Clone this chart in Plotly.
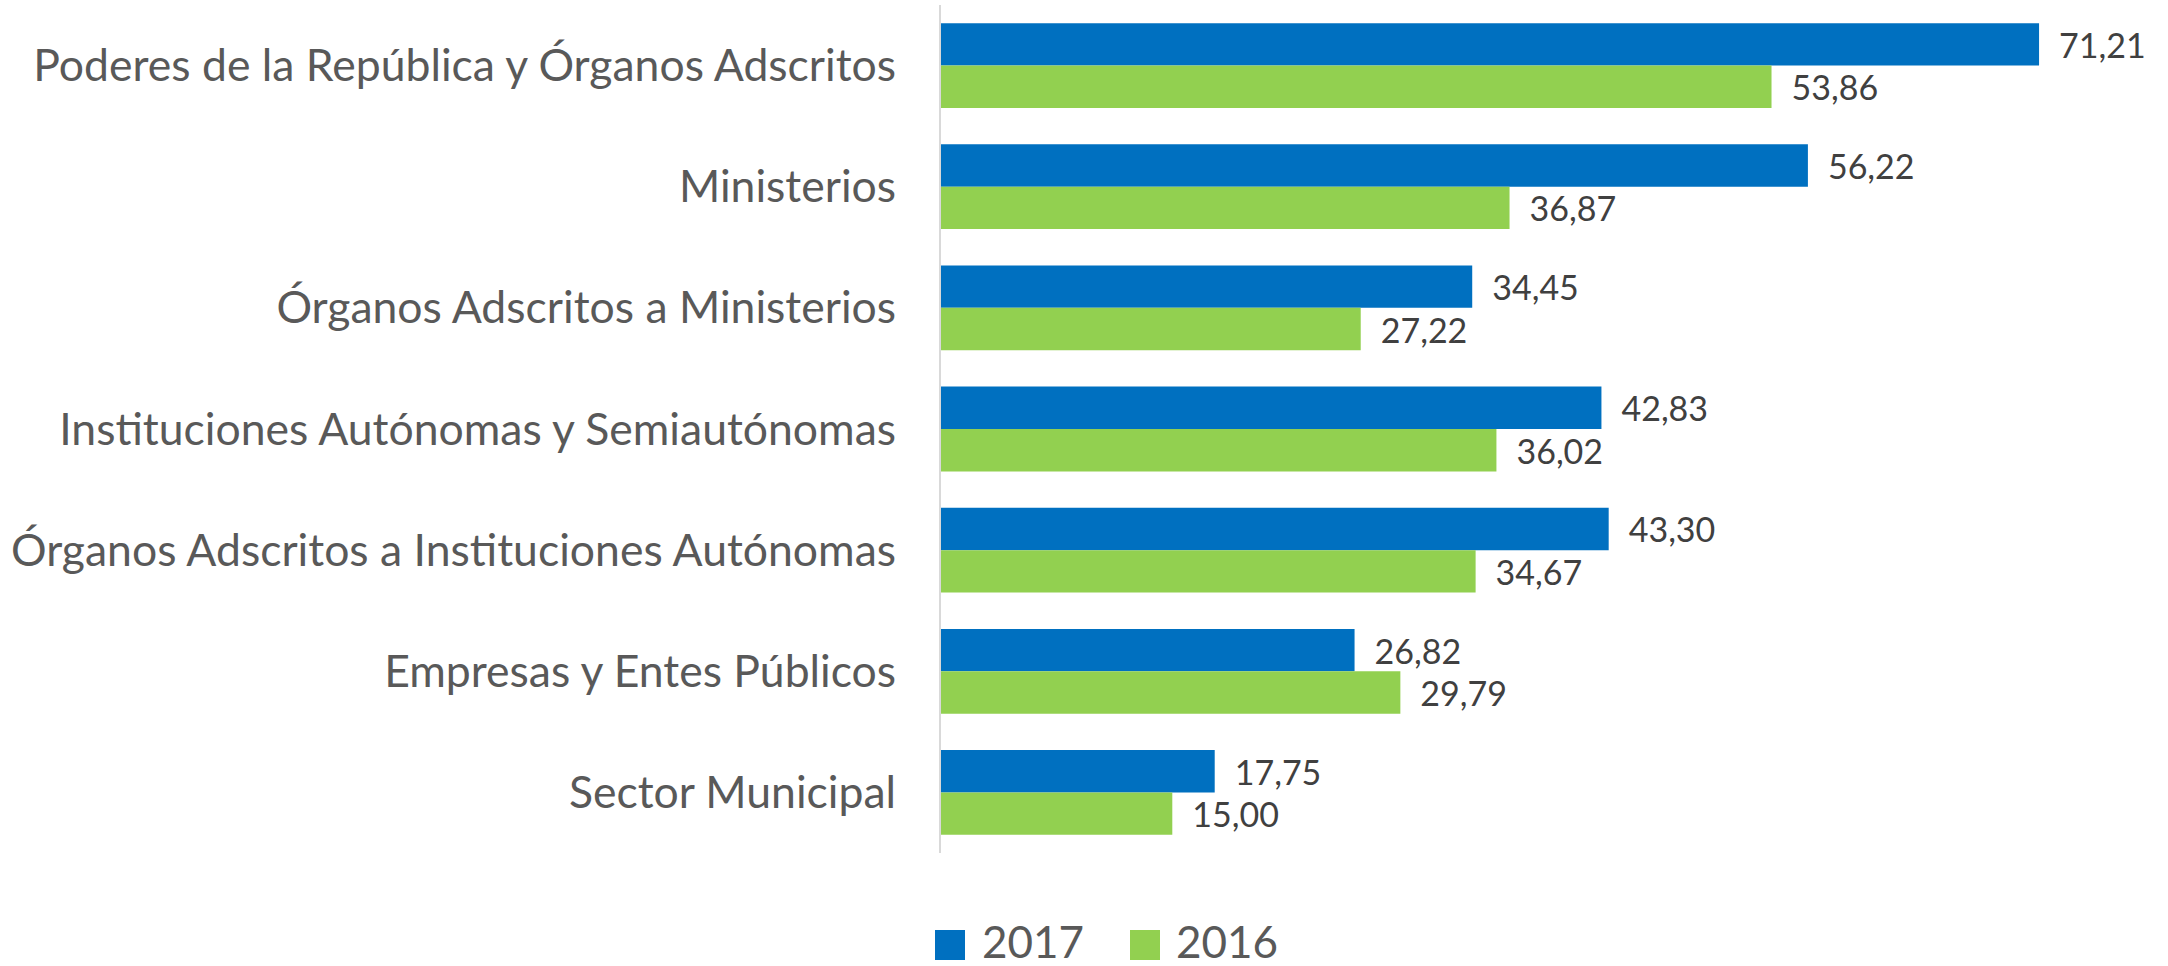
import plotly.graph_objects as go

categories = [
    "Poderes de la República y Órganos Adscritos",
    "Ministerios",
    "Órganos Adscritos a Ministerios",
    "Instituciones Autónomas y Semiautónomas",
    "Órganos Adscritos a Instituciones Autónomas",
    "Empresas y Entes Públicos",
    "Sector Municipal",
]
values_2017 = [71.21, 56.22, 34.45, 42.83, 43.30, 26.82, 17.75]
values_2016 = [53.86, 36.87, 27.22, 36.02, 34.67, 29.79, 15.00]
series_names = ["2017", "2016"]
colors = ["#0070C0", "#92D050"]

W, H = 2168, 966
L, R, T, B = 941, 0, 5, 113
FONT = "Lato"

fig = go.Figure()
for name, vals, col in zip(series_names, [values_2017, values_2016], colors):
    fig.add_trace(go.Bar(
        y=categories, x=vals, orientation="h", name=name,
        marker=dict(color=col, line=dict(width=0)),
        texttemplate="\u2002%{x:.2f}", textposition="outside",
        constraintext="none", cliponaxis=False,
        textfont=dict(family=FONT, size=34, color="#404040"),
        showlegend=False,
    ))

pw = W - L - R
ph = H - T - B
def px_x(p):
    return (p - L) / pw
def px_y(p):
    return (H - B - p) / ph

shapes = []
annotations = []
legend_pos = [(935, 980), (1130, 1174)]
for (sq, tx), name, col in zip(legend_pos, series_names, colors):
    shapes.append(dict(type="rect", xref="paper", yref="paper",
                       x0=px_x(sq), x1=px_x(sq + 30), y0=px_y(930), y1=px_y(960),
                       fillcolor=col, line=dict(width=0)))
    annotations.append(dict(text=name, xref="paper", yref="paper",
                            x=px_x(tx), y=px_y(941), xanchor="left", yanchor="middle",
                            showarrow=False,
                            font=dict(family=FONT, size=44, color="#595959")))

fig.update_layout(
    width=W, height=H,
    margin=dict(l=L, r=R, t=T, b=B, pad=0),
    paper_bgcolor="white", plot_bgcolor="white",
    barmode="group", bargap=0.3, bargroupgap=0,
    separators=",.",
    font=dict(family=FONT, color="#595959"),
    xaxis=dict(range=[0, pw / 15.42], showgrid=False, zeroline=False,
               showticklabels=False, showline=False, ticks=""),
    yaxis=dict(autorange="reversed", showgrid=False, zeroline=False,
               showline=True, linecolor="#D9D9D9", linewidth=2,
               ticks="", ticklabelstandoff=34,
               tickfont=dict(family=FONT, size=44.5, color="#595959")),
    shapes=shapes, annotations=annotations,
    showlegend=False,
)

fig.write_html("out.html",
               config={"displayModeBar": False},
               post_script="document.body.style.margin='0';document.body.style.overflow='hidden';")
